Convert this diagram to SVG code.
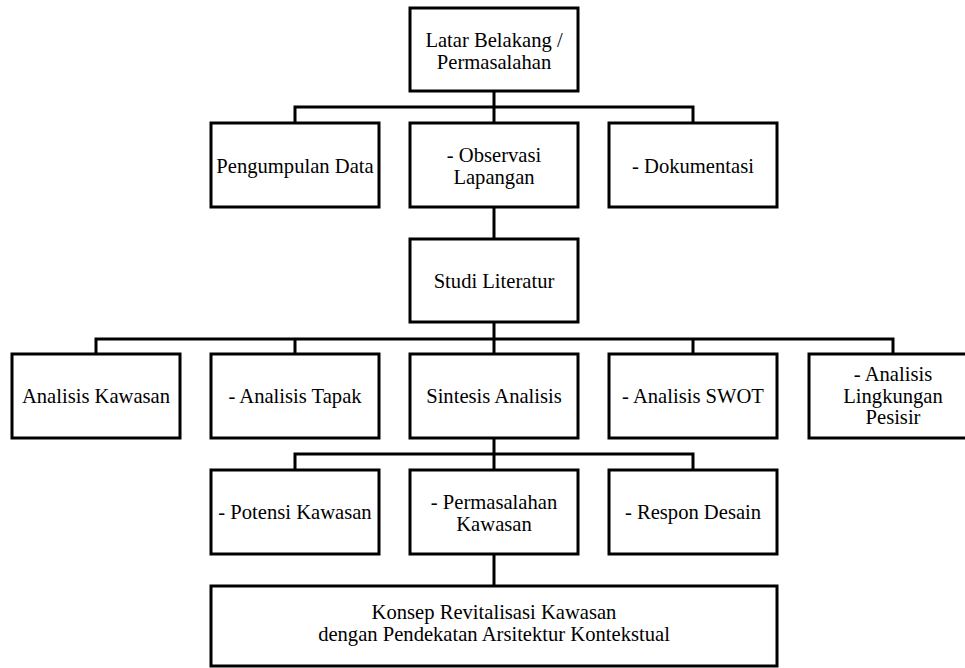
<svg xmlns="http://www.w3.org/2000/svg" width="965" height="668" viewBox="0 0 965 668">
<style>
.box{fill:#fff;stroke:#000;stroke-width:3}
.ln{fill:none;stroke:#000;stroke-width:3}
text{font-family:"Liberation Serif","Times New Roman",serif;font-size:20.6px;fill:#000;text-anchor:middle}
</style>
<rect width="965" height="668" fill="#fff"/>
<g id="connectors">
<path class="ln" d="M494 91V107M295 123V107H693V123M494 107V123"/>
<path class="ln" d="M494 207V239"/>
<path class="ln" d="M494 322V339M96 354V339H893V354M295 339V354M494 339V354M693 339V354"/>
<path class="ln" d="M494 438V454M295 470V454H693V470M494 454V470"/>
<path class="ln" d="M494 554V586"/>
</g>
<g id="latar"><rect class="box" x="410" y="8" width="168" height="83"/><text x="494" y="47">Latar Belakang /</text><text x="494" y="68.5">Permasalahan</text></g>
<g id="pengumpulan"><rect class="box" x="211" y="123" width="168" height="84"/><text x="295" y="172.5">Pengumpulan Data</text></g>
<g id="observasi"><rect class="box" x="410" y="123" width="168" height="84"/><text x="494" y="162">- Observasi</text><text x="494" y="183.5">Lapangan</text></g>
<g id="dokumentasi"><rect class="box" x="609" y="123" width="168" height="84"/><text x="693" y="172.5">- Dokumentasi</text></g>
<g id="studi"><rect class="box" x="410" y="239" width="168" height="83"/><text x="494" y="288">Studi Literatur</text></g>
<g id="kawasan"><rect class="box" x="12" y="354" width="168" height="84"/><text x="96" y="403">Analisis Kawasan</text></g>
<g id="tapak"><rect class="box" x="211" y="354" width="168" height="84"/><text x="295" y="403">- Analisis Tapak</text></g>
<g id="sintesis"><rect class="box" x="410" y="354" width="168" height="84"/><text x="494" y="403">Sintesis Analisis</text></g>
<g id="swot"><rect class="box" x="609" y="354" width="168" height="84"/><text x="693" y="403">- Analisis SWOT</text></g>
<g id="lingkungan"><rect class="box" x="809" y="354" width="168" height="84"/><text x="893" y="381">- Analisis</text><text x="893" y="402.5">Lingkungan</text><text x="893" y="424">Pesisir</text></g>
<g id="potensi"><rect class="box" x="211" y="470" width="168" height="84"/><text x="295" y="519">- Potensi Kawasan</text></g>
<g id="permasalahan"><rect class="box" x="410" y="470" width="168" height="84"/><text x="494" y="509">- Permasalahan</text><text x="494" y="530.5">Kawasan</text></g>
<g id="respon"><rect class="box" x="609" y="470" width="168" height="84"/><text x="693" y="519">- Respon Desain</text></g>
<g id="konsep"><rect class="box" x="211" y="586" width="566" height="80"/><text x="494" y="619">Konsep Revitalisasi Kawasan</text><text x="494" y="640.5">dengan Pendekatan Arsitektur Kontekstual</text></g>
</svg>
